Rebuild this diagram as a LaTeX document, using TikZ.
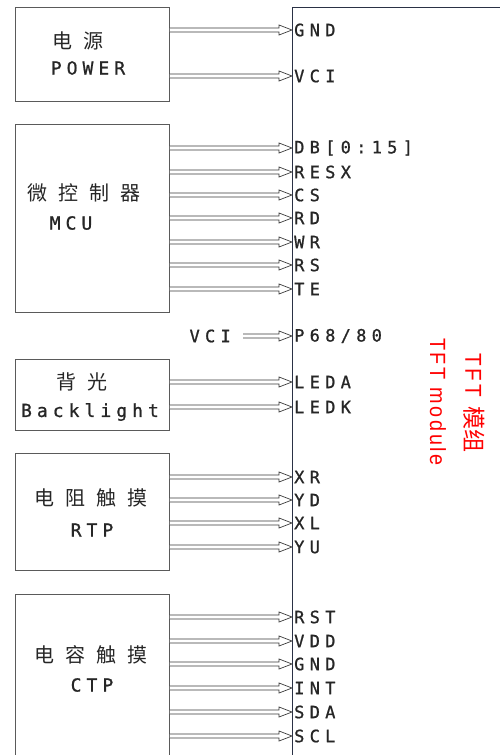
\documentclass[tikz,border=0pt]{standalone}
\usepackage{fontspec}
\usepackage{tikz}
\usetikzlibrary{calc,positioning}

\newfontfamily\pinfont[FakeBold=1,LetterSpace=31]{DejaVu Sans Mono}
\newfontfamily\boxfont[FakeBold=1,LetterSpace=28]{DejaVu Sans Mono}
\newfontfamily\cjkfont[LetterSpace=55]{Noto Sans CJK SC}
\newfontfamily\redfont[FakeStretch=0.9,LetterSpace=12]{Liberation Sans}
\newfontfamily\redcjk{Noto Sans CJK SC}

\definecolor{boxgray}{HTML}{5A5A5A}
\definecolor{txtdark}{HTML}{262626}
\definecolor{modline}{HTML}{2A3145}
\definecolor{busgray}{HTML}{3A3A3A}

\tikzset{
    blk/.style={draw=boxgray,line width=0.8pt,minimum width=154pt,anchor=north west,inner sep=0pt},
    pin/.style={anchor=west,inner xsep=2pt,inner ysep=0pt,text=txtdark,font=\pinfont\fontsize{17}{17}\selectfont},
    boxtxt/.style={inner sep=0pt,text=txtdark,font=\boxfont\fontsize{18}{18}\selectfont},
    boxcjk/.style={inner sep=0pt,text=txtdark,font=\cjkfont\fontsize{20}{20}\selectfont},
    busline/.style={draw=busgray,line width=0.7pt,fill=white,line join=miter},
    redlbl/.style={inner sep=0pt,text=red,rotate=-90}
}

% hollow bus arrow between two points of the same height
\newcommand{\busarrow}[2]{%
    \draw[busline] ($(#1)+(0,-2)$) -- ($(#2)+(-13,-2)$) -- ($(#2)+(-13,-5)$) -- (#2)
        -- ($(#2)+(-13,5)$) -- ($(#2)+(-13,2)$) -- ($(#1)+(0,2)$);}

\begin{document}
\begin{tikzpicture}[x=1pt,y=-1pt]
    \useasboundingbox (0,0) rectangle (500,755);
    \clip (0,0) rectangle (500,755);

    % TFT module outline
    \coordinate (tft-tr) at (500,7);
    \coordinate (tft-tl) at (292,7);
    \coordinate (tft-bl) at (292,760);
    \draw[modline,line width=0.8pt] (tft-tr) -- (tft-tl) -- (tft-bl);

    % blocks
    \node[blk,minimum height=94pt] (power) at (15,7) {};
    \node[blk,minimum height=188pt] (mcu) at (15,124) {};
    \node[blk,minimum height=71pt] (light) at (15,359) {};
    \node[blk,minimum height=117pt] (rtp) at (15,453) {};
    \node[blk,minimum height=200pt] (ctp) at (15,594) {};

    % block texts
    \node[boxcjk] (power-cn) at (78,41) {电源};
    \node[boxtxt] (power-en) at (88,68) {POWER};
    \node[boxcjk] (mcu-cn) at (84,193) {微控制器};
    \node[boxtxt] (mcu-en) at (71,223) {MCU};
    \node[boxcjk] (light-cn) at (82,382) {背光};
    \node[boxtxt] (light-en) at (90,412) {Backlight};
    \node[boxcjk] (rtp-cn) at (91,498) {电阻触摸};
    \node[boxtxt] (rtp-en) at (92,530) {RTP};
    \node[boxcjk] (ctp-cn) at (91,655) {电容触摸};
    \node[boxtxt] (ctp-en) at (92,685) {CTP};

    % pins
    \foreach \yy/\lbl [count=\i] in {30/GND,76/VCI}{
        \node[pin] (pwr-\i) at (292,\yy) {\lbl};
        \busarrow{power.east |- pwr-\i.west}{pwr-\i.west}
    }
    \foreach \yy/\lbl [count=\i] in {148/{DB[0:15]},172/RESX,195/CS,218/RD,242/WR,265/RS,289/TE}{
        \node[pin] (mcu-\i) at (292,\yy) {\lbl};
        \busarrow{mcu.east |- mcu-\i.west}{mcu-\i.west}
    }
    \node[pin] (p68) at (292,336) {P68/80};
    \node[pin,anchor=east,inner xsep=12pt] (vci) at (243,336) {VCI};
    \busarrow{vci.east}{p68.west}
    \foreach \yy/\lbl [count=\i] in {382/LEDA,407/LEDK}{
        \node[pin] (led-\i) at (292,\yy) {\lbl};
        \busarrow{light.east |- led-\i.west}{led-\i.west}
    }
    \foreach \yy/\lbl [count=\i] in {477/XR,500/YD,523/XL,547/YU}{
        \node[pin] (tp-\i) at (292,\yy) {\lbl};
        \busarrow{rtp.east |- tp-\i.west}{tp-\i.west}
    }
    \foreach \yy/\lbl [count=\i] in {617/RST,641/VDD,664/GND,688/INT,712/SDA,736/SCL}{
        \node[pin] (ct-\i) at (292,\yy) {\lbl};
        \busarrow{ctp.east |- ct-\i.west}{ct-\i.west}
    }

    % module title
    \node[redlbl,font=\redfont\fontsize{22}{22}\selectfont] (title-en) at (438,402) {TFT module};
    \node[redlbl,font=\redfont\fontsize{23}{23}\selectfont] (title-cn) at (474,403) {TFT\hspace{10pt}{\redcjk 模组}};
\end{tikzpicture}
\end{document}
